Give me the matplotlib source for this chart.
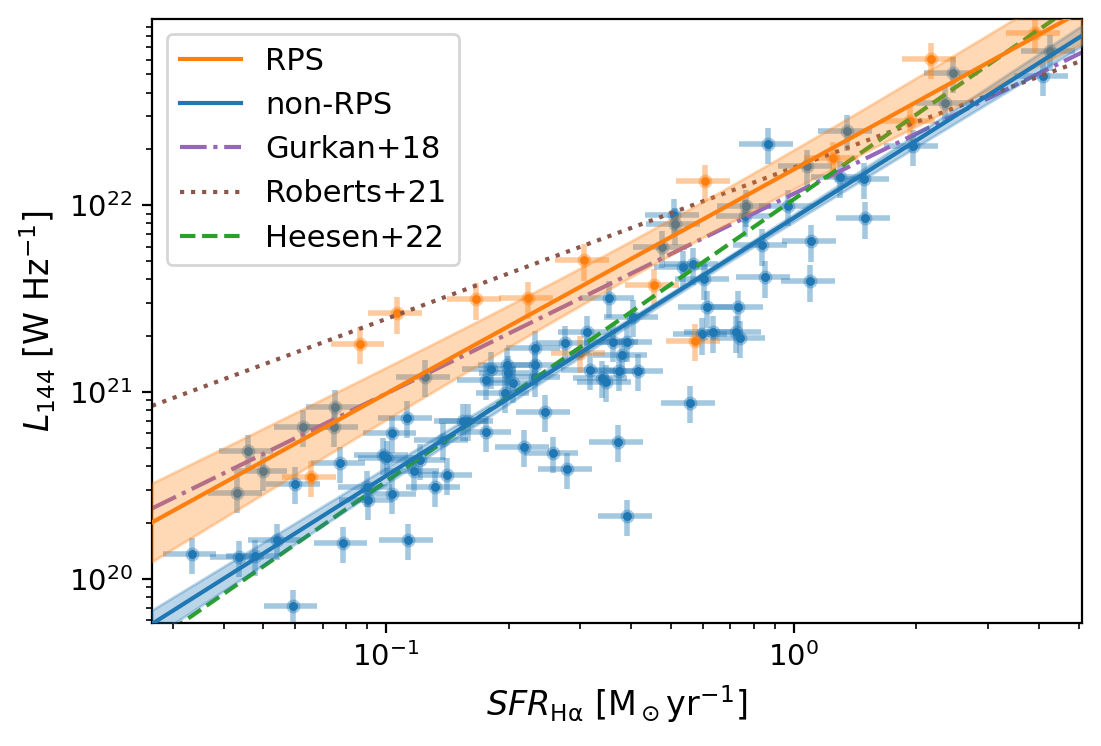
import numpy as np
import matplotlib
matplotlib.use("Agg")
import matplotlib.pyplot as plt
from matplotlib.lines import Line2D

# --- non-RPS galaxies: SFR [Msun/yr] and L144 [1e21 W/Hz] ---
sfr_non = [0.0334, 0.0436, 0.0477, 0.0540, 0.0591, 0.0598, 0.0431, 0.0459, 0.0499, 0.0626,
           0.0750, 0.0745, 0.1247, 0.0771, 0.0784, 0.0898, 0.0903, 0.0983, 0.1006, 0.1034,
           0.1034, 0.1126, 0.1132, 0.1171, 0.1212, 0.1319, 0.1380, 0.1411, 0.1545, 0.1589,
           0.1759, 0.1759, 0.1809, 0.4753, 0.5115, 0.5086, 0.7638, 0.968, 0.7596, 0.836,
           1.103, 0.5352, 0.5662, 0.6026, 0.850, 1.096, 0.3523, 0.4035, 0.6128, 0.730,
           0.5958, 0.634, 0.722, 0.738, 0.3112, 0.2748, 0.3604, 0.3901, 0.3793, 0.2320,
           0.2320, 0.1980, 0.1991, 0.2048, 0.1957, 0.2320, 0.3164, 0.3387, 0.3464, 0.3728,
           0.4150, 0.5567, 0.2455, 0.2181, 0.2568, 0.2780, 0.3707, 0.3901, 1.078, 1.299,
           1.487, 1.496, 1.351, 1.962, 2.350, 2.459, 4.253, 4.088, 0.865]
lum_non = [0.136, 0.131, 0.133, 0.162, 0.0717, 0.323, 0.289, 0.485, 0.379, 0.652,
           0.835, 0.652, 1.208, 0.418, 0.156, 0.311, 0.265, 0.462, 0.445, 0.606,
           0.285, 0.729, 0.162, 0.379, 0.434, 0.311, 0.556, 0.361, 0.702, 0.702,
           0.613, 1.165, 1.334, 5.935, 7.88, 8.81, 9.84, 9.92, 8.70, 6.08,
           6.39, 4.64, 4.81, 4.00, 4.10, 3.90, 3.20, 2.53, 2.83, 2.83,
           2.03, 2.08, 2.08, 1.955, 2.08, 1.838, 1.861, 1.861, 1.585, 1.728,
           1.401, 1.401, 1.270, 1.122, 0.992, 1.208, 1.318, 1.194, 1.136, 1.301,
           1.301, 0.877, 0.785, 0.510, 0.473, 0.388, 0.542, 0.2176, 16.12, 14.07,
           13.73, 8.49, 24.83, 20.63, 35.06, 50.77, 66.6, 48.9, 21.14]

# --- RPS galaxies ---
sfr_rps = [0.0655, 0.0863, 0.1064, 0.1662, 0.2229, 0.3059, 0.4544, 0.2991, 0.5727, 0.6060,
           1.248, 1.929, 2.172, 3.907]
lum_rps = [0.352, 1.816, 2.630, 3.125, 3.163, 5.055, 3.714, 1.625, 1.884, 13.40,
           17.79, 28.08, 60.36, 83.2]

# relative uncertainties
sfr_rel_err = 0.15
lum_rel_err = 0.22

# fits: log L = intercept + slope * log SFR ; band: sqrt(a^2 + b^2 (logSFR - pivot)^2)
rps_fit = dict(slope=1.20, intercept=22.19, a=0.095, b=0.147, pivot=-0.3)
non_fit = dict(slope=1.38, intercept=21.93, a=0.015, b=0.055, pivot=-0.25)

# literature relations
gurkan18 = dict(slope=1.07, intercept=22.06)
roberts21 = dict(slope=0.81, intercept=22.20)
heesen22 = dict(slope=1.51, intercept=22.03)

xlim = (0.0267, 5.09)
ylim = (5.8e19, 9.9e22)

fig = plt.figure(figsize=(5.505, 3.73), dpi=200)
ax = fig.add_axes([152 / 1101, 123 / 746, (1081.7 - 152) / 1101, (623 - 19) / 746])

def draw_points(sfr, lum, col):
    sfr = np.array(sfr)
    lum = np.array(lum) * 1e21
    ax.errorbar(sfr, lum, xerr=sfr_rel_err * sfr, yerr=lum_rel_err * lum,
                fmt='o', color=col, ms=5, mew=0, elinewidth=2, alpha=0.4, zorder=1)
    ax.plot(sfr, lum, 'o', color=col, ms=3.2, mew=0, zorder=1.1)

draw_points(sfr_non, lum_non, 'C0')
draw_points(sfr_rps, lum_rps, 'C1')

xs = np.logspace(np.log10(xlim[0]), np.log10(xlim[1]), 300)
lx = np.log10(xs)

for rel, col, ls in [(gurkan18, 'C4', '-.'), (roberts21, 'C5', ':'), (heesen22, 'C2', '--')]:
    ax.plot(xs, 10 ** (rel['intercept'] + rel['slope'] * lx), color=col, ls=ls, lw=1.5, zorder=2)

for fit, col in [(non_fit, 'C0'), (rps_fit, 'C1')]:
    ly = fit['intercept'] + fit['slope'] * lx
    hw = np.sqrt(fit['a'] ** 2 + fit['b'] ** 2 * (lx - fit['pivot']) ** 2)
    ax.fill_between(xs, 10 ** (ly - hw), 10 ** (ly + hw), color=col, alpha=0.3, zorder=3)
    ax.plot(xs, 10 ** ly, color=col, lw=1.5, zorder=3.1)

ax.set_xscale('log')
ax.set_yscale('log')
ax.set_xlim(*xlim)
ax.set_ylim(*ylim)
ax.tick_params(labelsize=10.5)
ax.set_xlabel(r'$SFR_{\mathrm{H\alpha}}$ [M$_\odot$yr$^{-1}$]', fontsize=12)
ax.set_ylabel(r'$L_{144}$ [W Hz$^{-1}$]', fontsize=12)

handles = [Line2D([], [], color='C1', lw=1.5),
           Line2D([], [], color='C0', lw=1.5),
           Line2D([], [], color='C4', ls='-.', lw=1.5),
           Line2D([], [], color='C5', ls=':', lw=1.5),
           Line2D([], [], color='C2', ls='--', lw=1.5)]
labels = ['RPS', 'non-RPS', 'Gurkan+18', 'Roberts+21', 'Heesen+22']
ax.legend(handles, labels, loc='upper left', fontsize=11)

fig.savefig('out.png', dpi=200)
